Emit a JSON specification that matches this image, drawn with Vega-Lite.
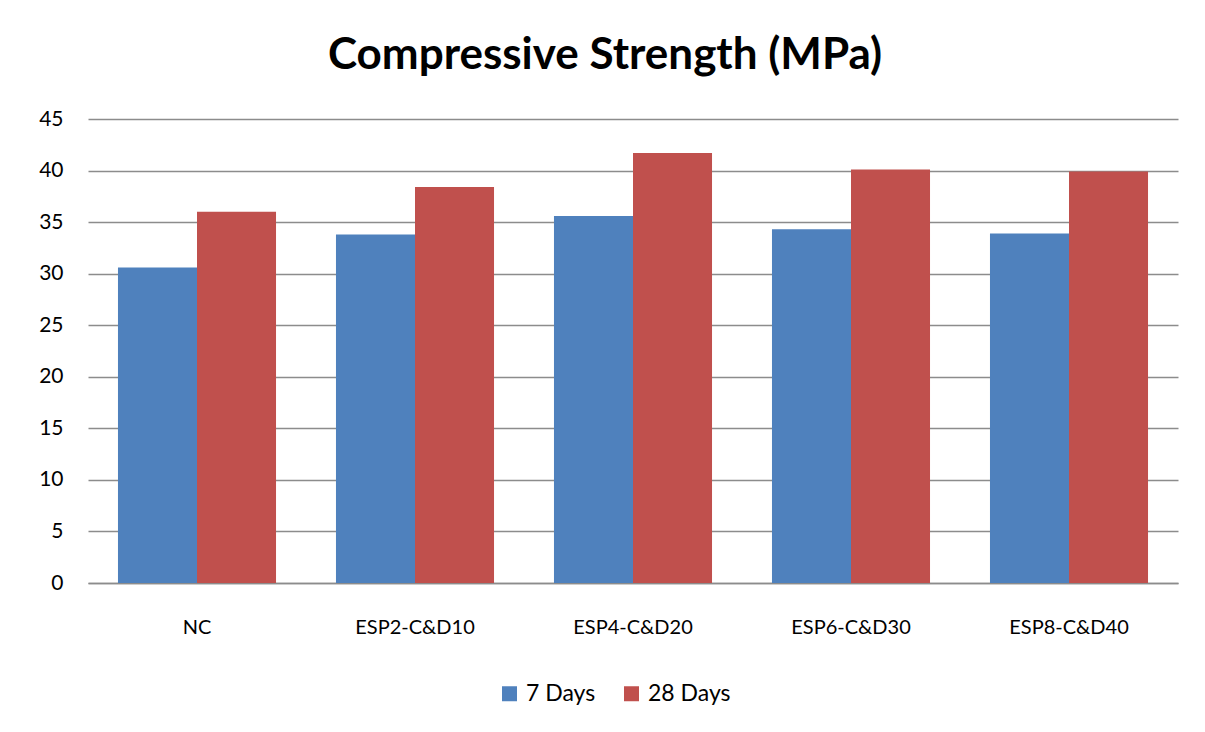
{
  "$schema": "https://vega.github.io/schema/vega-lite/v6.json",
  "width": 1090,
  "height": 464,
  "padding": {"left": 38, "top": 34, "right": 27, "bottom": 10},
  "background": "white",
  "title": {
    "text": "Compressive Strength (MPa)",
    "font": "Lato",
    "fontSize": 44,
    "fontWeight": "bold",
    "color": "black",
    "offset": 30,
    "anchor": "middle",
    "dx": -28
  },
  "data": {
    "values": [
      {"mix": "NC", "age": "7 Days", "strength": 30.6},
      {"mix": "NC", "age": "28 Days", "strength": 36.0},
      {"mix": "ESP2-C&D10", "age": "7 Days", "strength": 33.8},
      {"mix": "ESP2-C&D10", "age": "28 Days", "strength": 38.4},
      {"mix": "ESP4-C&D20", "age": "7 Days", "strength": 35.6},
      {"mix": "ESP4-C&D20", "age": "28 Days", "strength": 41.7},
      {"mix": "ESP6-C&D30", "age": "7 Days", "strength": 34.3},
      {"mix": "ESP6-C&D30", "age": "28 Days", "strength": 40.1},
      {"mix": "ESP8-C&D40", "age": "7 Days", "strength": 33.9},
      {"mix": "ESP8-C&D40", "age": "28 Days", "strength": 39.9}
    ]
  },
  "mark": {"type": "bar"},
  "encoding": {
    "x": {
      "field": "mix",
      "type": "nominal",
      "sort": ["NC", "ESP2-C&D10", "ESP4-C&D20", "ESP6-C&D30", "ESP8-C&D40"],
      "scale": {"paddingInner": 0.275, "paddingOuter": 0.1375},
      "axis": {
        "title": null,
        "labelAngle": 0,
        "labelFont": "Lato",
        "labelFontSize": 20,
        "labelColor": "black",
        "labelPadding": 34,
        "ticks": false,
        "domainColor": "#8c8c8c",
        "domainWidth": 1.5
      }
    },
    "xOffset": {"field": "age", "type": "nominal", "sort": ["7 Days", "28 Days"]},
    "y": {
      "field": "strength",
      "type": "quantitative",
      "scale": {"domain": [0, 45]},
      "axis": {
        "title": null,
        "values": [0, 5, 10, 15, 20, 25, 30, 35, 40, 45],
        "grid": true,
        "gridColor": "#8c8c8c",
        "gridWidth": 1.5,
        "domain": false,
        "ticks": false,
        "labelPadding": 25,
        "labelFont": "Lato",
        "labelFontSize": 21,
        "labelColor": "black"
      }
    },
    "color": {
      "field": "age",
      "type": "nominal",
      "sort": ["7 Days", "28 Days"],
      "scale": {"range": ["#4F81BD", "#C0504D"]},
      "legend": {
        "orient": "none",
        "legendX": 410,
        "legendY": 563,
        "direction": "horizontal",
        "title": null,
        "symbolType": "square",
        "symbolSize": 225,
        "symbolStrokeWidth": 0,
        "labelOffset": 5,
        "labelFont": "Lato",
        "labelFontSize": 23,
        "labelColor": "black",
        "columnPadding": 24
      }
    }
  },
  "config": {"view": {"stroke": null}}
}
